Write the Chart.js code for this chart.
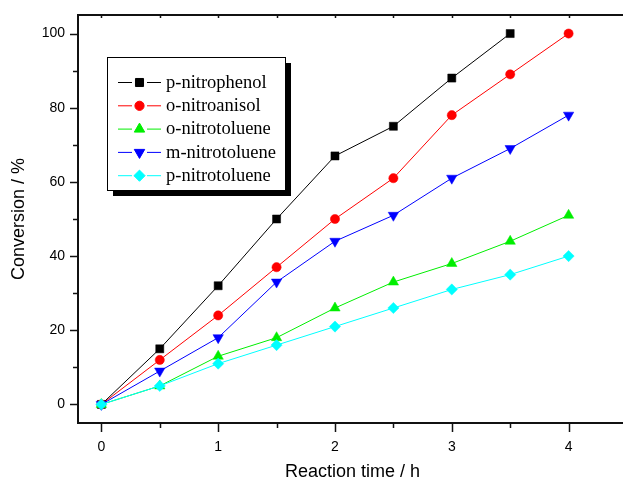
<!DOCTYPE html>
<html>
<head>
<meta charset="utf-8">
<script src="https://cdn.jsdelivr.net/npm/chart.js@4/dist/chart.umd.min.js"></script>
<style>
  html, body { margin: 0; padding: 0; background: #fff; overflow: hidden; }
  #wrap { width: 623px; height: 480px; overflow: hidden; position: relative; }
  canvas { display: block; }
</style>
</head>
<body>
<div id="wrap"><canvas id="c" width="640" height="480"></canvas></div>
<script>
// ---- data ----
const times = [0, 0.5, 1, 1.5, 2, 2.5, 3, 3.5, 4];
const seriesNames = ['p-nitrophenol', 'o-nitroanisol', 'o-nitrotoluene', 'm-nitrotoluene', 'p-nitrotoluene'];
const pNitrophenol = [0, 15, 32, 50, 67, 75, 88, 100];
const oNitroanisol = [0, 12, 24, 37, 50, 61, 78, 89, 100];
const oNitrotoluene = [0, 5, 13, 18, 26, 33, 38, 44, 51];
const mNitrotoluene = [0, 9, 18, 33, 44, 51, 61, 69, 78];
const pNitrotoluene = [0, 5, 11, 16, 21, 26, 31, 35, 40];
const xTickValues = [0, 0.5, 1, 1.5, 2, 2.5, 3, 3.5, 4];
const yTickValues = [0, 10, 20, 30, 40, 50, 60, 70, 80, 90, 100];
const xTitle = 'Reaction time / h';
const yTitle = 'Conversion / %';

const colors = ['#000000', '#ff0000', '#00ee00', '#0000ff', '#00ffff'];
const styles = [
  { pointStyle: 'rect', radius: 5.7, rotation: 0 },
  { pointStyle: 'circle', radius: 4.6, rotation: 0 },
  { pointStyle: 'triangle', radius: 6, rotation: 0 },
  { pointStyle: 'triangle', radius: 6, rotation: 180 },
  { pointStyle: 'rectRot', radius: 5.6, rotation: 0 }
];
const allSeries = [pNitrophenol, oNitroanisol, oNitrotoluene, mNitrotoluene, pNitrotoluene];

const datasets = allSeries.map((vals, i) => ({
  label: seriesNames[i],
  data: vals.map((v, j) => ({ x: times[j], y: v })),
  borderColor: colors[i],
  backgroundColor: colors[i],
  borderWidth: 1,
  pointStyle: styles[i].pointStyle,
  pointRadius: styles[i].radius,
  pointRotation: styles[i].rotation,
  pointBorderWidth: 0.5,
  pointBorderColor: colors[i],
  pointBackgroundColor: colors[i],
  tension: 0,
  order: 5 - i
}));

const tickFont = { family: "'Liberation Sans', Arial, sans-serif", size: 14 };
const titleFont = { family: "'Liberation Sans', Arial, sans-serif", size: 18 };

const frameTicks = {
  id: 'frameTicks',
  afterDatasetsDraw(chart) {
    const ctx = chart.ctx;
    const a = chart.chartArea;
    const xs = chart.scales.x, ys = chart.scales.y;
    ctx.save();
    ctx.strokeStyle = '#111';
    ctx.lineWidth = 2;
    ctx.beginPath();
    ctx.moveTo(a.left - 1, a.top);
    ctx.lineTo(a.right + 1, a.top);
    ctx.stroke();
    ctx.lineWidth = 1.5;
    xTickValues.forEach(v => {
      const px = Math.round(xs.getPixelForValue(v)) + 0.5;
      const major = Number.isInteger(v);
      ctx.beginPath();
      ctx.moveTo(px, a.bottom);
      ctx.lineTo(px, a.bottom + (major ? 9 : 5));
      ctx.stroke();
      ctx.beginPath();
      ctx.moveTo(px, a.top);
      ctx.lineTo(px, a.top + 3);
      ctx.stroke();
    });
    yTickValues.forEach(v => {
      const py = Math.round(ys.getPixelForValue(v)) + 0.5;
      const major = v % 20 === 0;
      ctx.beginPath();
      ctx.moveTo(a.left, py);
      ctx.lineTo(a.left - (major ? 8 : 5), py);
      ctx.stroke();
    });
    ctx.restore();
  }
};

const boxLegend = {
  id: 'boxLegend',
  afterDraw(chart) {
    const ctx = chart.ctx;
    const bx = 107, by = 57, bw = 178, bh = 133, sh = 6;
    ctx.save();
    ctx.fillStyle = '#000';
    ctx.fillRect(bx + sh, by + sh, bw, bh);
    ctx.fillStyle = '#fff';
    ctx.fillRect(bx, by, bw, bh);
    ctx.strokeStyle = '#000';
    ctx.lineWidth = 1;
    ctx.strokeRect(bx + 0.5, by + 0.5, bw, bh);
    ctx.font = "18.5px 'Liberation Serif', 'Times New Roman', serif";
    ctx.textBaseline = 'middle';
    chart.data.datasets.forEach((ds, i) => {
      const y = by + 25 + i * 23.3;
      ctx.strokeStyle = ds.borderColor;
      ctx.lineWidth = 1;
      ctx.beginPath();
      ctx.moveTo(118, y + 0.5); ctx.lineTo(132, y + 0.5);
      ctx.moveTo(147, y + 0.5); ctx.lineTo(161, y + 0.5);
      ctx.stroke();
      ctx.fillStyle = ds.backgroundColor;
      ctx.strokeStyle = ds.borderColor;
      Chart.helpers.drawPoint(ctx, {
        pointStyle: ds.pointStyle,
        rotation: ds.pointRotation,
        radius: ds.pointRadius,
        borderWidth: 0.5
      }, 139.5, y + 0.5);
      ctx.fillStyle = '#000';
      ctx.fillText(ds.label, 166, y + 1);
    });
    ctx.restore();
  }
};

new Chart(document.getElementById('c'), {
  type: 'line',
  data: { datasets },
  options: {
    responsive: false,
    animation: false,
    layout: { padding: { top: 15, right: 13, left: 0, bottom: 0 } },
    plugins: { legend: { display: false }, tooltip: { enabled: false } },
    scales: {
      x: {
        type: 'linear',
        min: -0.2, max: 4.5,
        afterFit: s => { s.height = 57; },
        afterBuildTicks: s => { s.ticks = xTickValues.map(v => ({ value: v })); },
        grid: { display: true, drawOnChartArea: false, drawTicks: false },
        border: { display: true, color: '#111', width: 2 },
        ticks: {
          color: '#000', font: tickFont, padding: 16, maxRotation: 0, autoSkip: false,
          callback: v => Number.isInteger(v) ? String(v) : ''
        },
        title: { display: true, text: xTitle, color: '#000', font: titleFont, padding: { top: 4, bottom: -3 } }
      },
      y: {
        type: 'linear',
        min: -5, max: 105,
        afterFit: s => { s.width = 78; s.paddingTop = 0; s.paddingBottom = 0; },
        afterBuildTicks: s => { s.ticks = yTickValues.map(v => ({ value: v })); },
        grid: { display: true, drawOnChartArea: false, drawTicks: false },
        border: { display: true, color: '#111', width: 2 },
        ticks: {
          color: '#000', font: tickFont, padding: 13, autoSkip: false,
          callback: v => v % 20 === 0 ? String(v) : ''
        },
        title: { display: true, text: yTitle, color: '#000', font: titleFont, padding: { top: 8, bottom: 0 } }
      }
    }
  },
  plugins: [frameTicks, boxLegend]
});
</script>
</body>
</html>
